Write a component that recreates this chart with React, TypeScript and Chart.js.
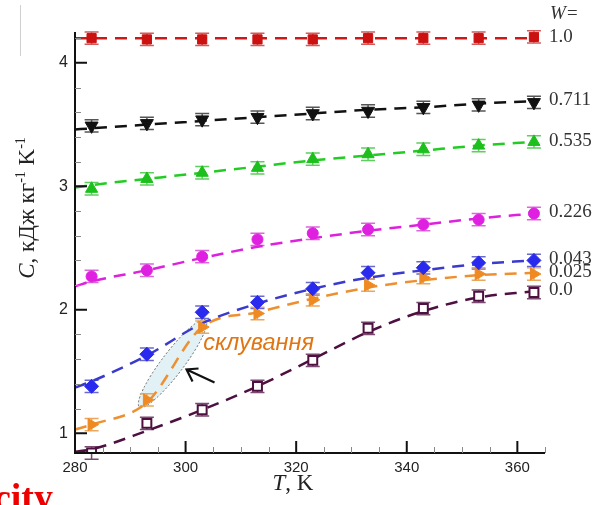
import React, { useEffect, useRef } from "react";
import { Chart, registerables } from "chart.js";

Chart.register(...registerables);

// ---- data ----
const temps = [283, 293, 303, 313, 323, 333, 343, 353, 363];
const fitTemps = [280, 283, 293, 303, 313, 323, 333, 343, 353, 363];
const xTicks = [280, 300, 320, 340, 360];
const yTicks = [1, 2, 3, 4];
const wLabels = ["1.0", "0.711", "0.535", "0.226", "0.043", "0.025", "0.0"];

const cW100 = [4.2, 4.19, 4.19, 4.19, 4.19, 4.2, 4.2, 4.2, 4.21];
const cW0711 = [3.49, 3.51, 3.54, 3.56, 3.59, 3.61, 3.64, 3.66, 3.68];
const cW0535 = [2.98, 3.06, 3.11, 3.15, 3.22, 3.26, 3.3, 3.33, 3.36];
const cW0226 = [2.27, 2.32, 2.43, 2.57, 2.62, 2.65, 2.69, 2.73, 2.78];
const cW0043 = [1.38, 1.64, 1.98, 2.06, 2.17, 2.3, 2.34, 2.38, 2.4];
const cW0025 = [1.07, 1.27, 1.86, 1.97, 2.08, 2.2, 2.26, 2.29, 2.29];
const cW0000 = [0.84, 1.08, 1.19, 1.38, 1.59, 1.85, 2.01, 2.11, 2.14];

const fitW100 = [4.2, 4.2, 4.2, 4.2, 4.2, 4.2, 4.2, 4.2, 4.2, 4.2];
const fitW0711 = [3.46, 3.47, 3.5, 3.53, 3.56, 3.59, 3.62, 3.64, 3.67, 3.69];
const fitW0535 = [2.99, 3.01, 3.06, 3.11, 3.16, 3.21, 3.25, 3.29, 3.33, 3.36];
const fitW0226 = [2.19, 2.23, 2.32, 2.42, 2.51, 2.58, 2.64, 2.69, 2.74, 2.78];
const fitW0043 = [1.37, 1.42, 1.63, 1.89, 2.05, 2.17, 2.26, 2.32, 2.37, 2.4];
const fitW0025 = [1.03, 1.07, 1.25, 1.86, 1.98, 2.09, 2.18, 2.24, 2.28, 2.3];
const fitW0000 = [0.85, 0.87, 1.02, 1.19, 1.38, 1.6, 1.82, 1.99, 2.1, 2.15];

const errors = [0.05, 0.05, 0.05, 0.05, 0.05, 0.05, 0.05, 0.05, 0.05];

const series = [
  { label: "1.0", pts: cW100, fit: fitW100, color: "#cc1111", line: "#cc1818", err: "#d25a5a", style: "rect", r: 6.5, rot: 0, fill: "#cc1111" },
  { label: "0.711", pts: cW0711, fit: fitW0711, color: "#111111", line: "#111111", err: "#555555", style: "triangle", r: 7.5, rot: 180, fill: "#111111" },
  { label: "0.535", pts: cW0535, fit: fitW0535, color: "#1cbf1c", line: "#22cc22", err: "#5ccf5c", style: "triangle", r: 7, rot: 0, fill: "#1cbf1c" },
  { label: "0.226", pts: cW0226, fit: fitW0226, color: "#e020e0", line: "#dd22dd", err: "#dd66dd", style: "circle", r: 5.5, rot: 0, fill: "#e020e0" },
  { label: "0.043", pts: cW0043, fit: fitW0043, color: "#2a2aee", line: "#3a3acc", err: "#6a6acc", style: "rectRot", r: 7, rot: 0, fill: "#2a2aee" },
  { label: "0.025", pts: cW0025, fit: fitW0025, color: "#ef8a22", line: "#ee9030", err: "#e8a860", style: "triangle", r: 7, rot: 90, fill: "#ef8a22" },
  { label: "0.0", pts: cW0000, fit: fitW0000, color: "#4d1040", line: "#4d1040", err: "#7a4a70", style: "rect", r: 6.3, rot: 0, fill: "#ffffff" },
];

const SANS = "'Liberation Sans', Arial, sans-serif";
const SERIF = "'Liberation Serif', 'Times New Roman', serif";

const decorPlugin = {
  id: "decor",
  beforeDatasetsDraw(chart: any) {
    const { ctx, scales } = chart;
    const xs = scales.x, ys = scales.y;
    ctx.save();
    // annotation ellipse around orange points at 293 and 303
    const p1 = { x: xs.getPixelForValue(temps[1]), y: ys.getPixelForValue(cW0025[1]) };
    const p2 = { x: xs.getPixelForValue(temps[2]), y: ys.getPixelForValue(cW0025[2]) };
    const cx = (p1.x + p2.x) / 2 - 2, cy = (p1.y + p2.y) / 2;
    const dx = p2.x - p1.x, dy = p2.y - p1.y;
    const half = Math.sqrt(dx * dx + dy * dy) / 2 + 9;
    const ang = Math.atan2(dy, dx);
    ctx.beginPath();
    ctx.ellipse(cx, cy, half, 11, ang, 0, Math.PI * 2);
    ctx.fillStyle = "#e2f1f5";
    ctx.fill();
    ctx.setLineDash([2, 2]);
    ctx.strokeStyle = "#666";
    ctx.lineWidth = 1;
    ctx.stroke();
    ctx.setLineDash([]);

    // error bars
    chart.data.datasets.forEach((ds: any) => {
      if (!ds.errs) return;
      ctx.strokeStyle = ds.errColor;
      ctx.lineWidth = 1.5;
      ds.data.forEach((d: any, j: number) => {
        const x = xs.getPixelForValue(d.x);
        const yt = ys.getPixelForValue(d.y + ds.errs[j]);
        const yb = ys.getPixelForValue(d.y - ds.errs[j]);
        ctx.beginPath();
        ctx.moveTo(x, yt); ctx.lineTo(x, yb);
        ctx.moveTo(x - 7, yt); ctx.lineTo(x + 7, yt);
        ctx.moveTo(x - 7, yb); ctx.lineTo(x + 7, yb);
        ctx.stroke();
      });
    });
    ctx.restore();
  },
  afterDraw(chart: any) {
    const { ctx, chartArea: ca, scales } = chart;
    const xs = scales.x, ys = scales.y;
    ctx.save();
    // axes
    ctx.strokeStyle = "#111";
    ctx.lineWidth = 2;
    ctx.beginPath();
    ctx.moveTo(ca.left, ca.top);
    ctx.lineTo(ca.left, ca.bottom);
    ctx.lineTo(ca.right, ca.bottom);
    ctx.stroke();
    // major ticks
    ctx.lineWidth = 2;
    ctx.beginPath();
    yTicks.forEach((v) => {
      const y = ys.getPixelForValue(v);
      ctx.moveTo(ca.left, y); ctx.lineTo(ca.left + 12, y);
    });
    xTicks.forEach((v) => {
      const x = xs.getPixelForValue(v);
      ctx.moveTo(x, ca.bottom); ctx.lineTo(x, ca.bottom - 12);
    });
    ctx.stroke();
    // minor ticks
    ctx.strokeStyle = "#888";
    ctx.lineWidth = 1;
    ctx.beginPath();
    for (let v = 1.0; v <= 4.21; v += 0.2) {
      if (Math.abs(v - Math.round(v)) < 0.01) continue;
      const y = Math.round(ys.getPixelForValue(v)) + 0.5;
      ctx.moveTo(ca.left, y); ctx.lineTo(ca.left + 6, y);
    }
    for (let v = 285; v <= 365; v += 5) {
      if (v % 20 === 0) continue;
      const x = Math.round(xs.getPixelForValue(v)) + 0.5;
      ctx.moveTo(x, ca.bottom); ctx.lineTo(x, ca.bottom - 6);
    }
    ctx.stroke();

    // y title
    ctx.save();
    ctx.translate(34, 208);
    ctx.rotate(-Math.PI / 2);
    const segs = [
      { t: "C", f: `italic 23px ${SERIF}`, dy: 0 },
      { t: ", кДж кг", f: `23px ${SERIF}`, dy: 0 },
      { t: "-1", f: `14px ${SERIF}`, dy: -9 },
      { t: " K", f: `23px ${SERIF}`, dy: 0 },
      { t: "-1", f: `14px ${SERIF}`, dy: -9 },
    ];
    let total = 0;
    segs.forEach((s) => { ctx.font = s.f; total += ctx.measureText(s.t).width; });
    let px = -total / 2;
    ctx.fillStyle = "#222";
    ctx.textBaseline = "alphabetic";
    segs.forEach((s) => {
      ctx.font = s.f;
      ctx.fillText(s.t, px, s.dy);
      px += ctx.measureText(s.t).width;
    });
    ctx.restore();

    // x title
    const xsegs = [
      { t: "T", f: `italic 23px ${SERIF}` },
      { t: ", K", f: `23px ${SERIF}` },
    ];
    let tw = 0;
    xsegs.forEach((s) => { ctx.font = s.f; tw += ctx.measureText(s.t).width; });
    let tx = 293 - tw / 2;
    ctx.fillStyle = "#222";
    xsegs.forEach((s) => {
      ctx.font = s.f;
      ctx.fillText(s.t, tx, 490);
      tx += ctx.measureText(s.t).width;
    });

    // W labels
    ctx.font = `italic 19px ${SERIF}`;
    ctx.fillStyle = "#333";
    ctx.textBaseline = "middle";
    ctx.fillText("W=", ca.right + 5, 14);
    ctx.font = `19px ${SERIF}`;
    series.forEach((s, i) => {
      const y = ys.getPixelForValue(s.fit[s.fit.length - 1]) - 1;
      ctx.fillText(wLabels[i], ca.right + 4, y);
    });

    // annotation text and arrow
    const p1 = { x: xs.getPixelForValue(temps[1]), y: ys.getPixelForValue(cW0025[1]) };
    const p2 = { x: xs.getPixelForValue(temps[2]), y: ys.getPixelForValue(cW0025[2]) };
    ctx.font = `italic 23.5px ${SANS}`;
    ctx.fillStyle = "#e07512";
    ctx.textBaseline = "alphabetic";
    ctx.fillText("склування", p2.x + 1, p2.y + 23);

    const cx = (p1.x + p2.x) / 2, cy = (p1.y + p2.y) / 2;
    const tip = { x: cx + 12, y: cy + 6 };
    const tail = { x: cx + 40, y: cy + 19 };
    ctx.strokeStyle = "#111";
    ctx.lineWidth = 2.2;
    ctx.beginPath();
    ctx.moveTo(tail.x, tail.y); ctx.lineTo(tip.x, tip.y);
    ctx.moveTo(tip.x + 12, tip.y - 1); ctx.lineTo(tip.x, tip.y); ctx.lineTo(tip.x + 6, tip.y + 12);
    ctx.stroke();

    // cut-off red caption at the bottom
    ctx.font = `bold 38px ${SERIF}`;
    ctx.fillStyle = "#ee0000";
    ctx.textAlign = "right";
    ctx.fillText("Heat capacity", 53, 510);
    ctx.textAlign = "left";

    // faint frame line at top left
    ctx.strokeStyle = "#d0d0d0";
    ctx.lineWidth = 1;
    ctx.beginPath();
    ctx.moveTo(20.5, 5); ctx.lineTo(20.5, 56);
    ctx.stroke();
    ctx.restore();
  },
};

export default function App() {
  const ref = useRef<HTMLCanvasElement | null>(null);
  useEffect(() => {
    if (!ref.current) return;
    const datasets: any[] = [];
    series.forEach((s) => {
      datasets.push({
        label: s.label + " fit",
        data: fitTemps.map((t, i) => ({ x: t, y: s.fit[i] })),
        showLine: true,
        borderColor: s.line,
        borderWidth: 2.5,
        borderDash: [12, 8],
        pointRadius: 0,
        cubicInterpolationMode: "monotone",
        fill: false,
        order: 2,
      });
    });
    series.forEach((s) => {
      datasets.push({
        label: "W=" + s.label,
        data: temps.map((t, i) => ({ x: t, y: s.pts[i] })),
        errs: errors,
        errColor: s.err,
        showLine: false,
        pointStyle: s.style,
        pointRadius: s.r,
        pointRotation: s.rot,
        backgroundColor: s.fill,
        pointBackgroundColor: s.fill,
        borderColor: s.color,
        pointBorderColor: s.color,
        pointBorderWidth: s.fill === "#ffffff" ? 2 : 1,
        order: 1,
      });
    });
    const chart = new Chart(ref.current, {
      type: "scatter",
      data: { datasets },
      options: {
        animation: false,
        responsive: false,
        devicePixelRatio: 1,
        layout: { padding: { top: 32, right: 51, left: 0, bottom: 0 } },
        plugins: { legend: { display: false }, tooltip: { enabled: false }, title: { display: false } },
        scales: {
          x: {
            type: "linear",
            min: 280,
            max: 365,
            afterBuildTicks: (s: any) => { s.ticks = xTicks.map((v) => ({ value: v })); },
            afterFit: (s: any) => { s.height = 52; },
            grid: { display: false, drawTicks: false },
            border: { display: false },
            ticks: { font: { family: SANS, size: 15 }, color: "#222", padding: 6, maxRotation: 0 },
          },
          y: {
            type: "linear",
            min: 0.84,
            max: 4.25,
            afterBuildTicks: (s: any) => { s.ticks = yTicks.map((v) => ({ value: v })); },
            afterFit: (s: any) => { s.width = 75; },
            grid: { display: false, drawTicks: false },
            border: { display: false },
            ticks: { font: { family: SANS, size: 16 }, color: "#222", padding: 7 },
          },
        },
      } as any,
      plugins: [decorPlugin],
    });
    return () => chart.destroy();
  }, []);
  return (
    <div style={{ position: "absolute", left: 0, top: 0, width: 596, height: 505, background: "#fff" }}>
      <canvas ref={ref} width={596} height={505} />
    </div>
  );
}
